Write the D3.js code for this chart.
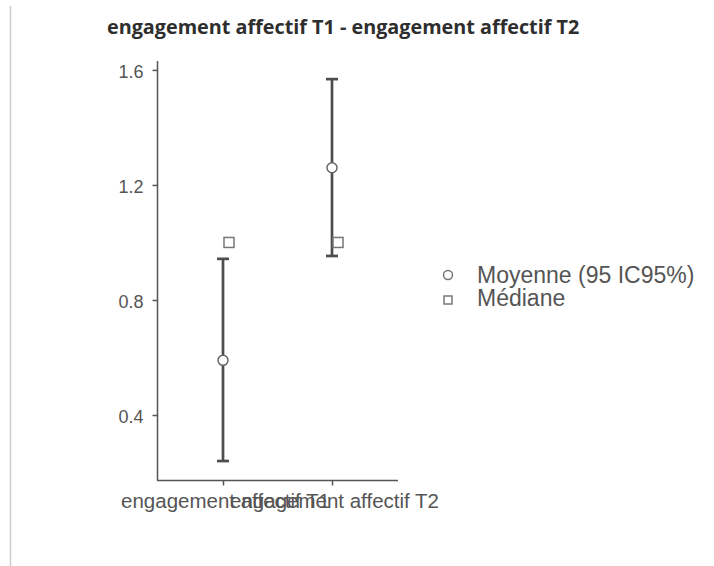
<!DOCTYPE html>
<html lang="fr">
<head>
<meta charset="utf-8">
<title>engagement affectif</title>
<script src="https://d3js.org/d3.v7.min.js"></script>
<style>
  body { margin: 0; background: #fff; }
  svg { display: block; }
  .title { font-family: "Open Sans", "Noto Sans", sans-serif; font-weight: bold; font-size: 19.8px; fill: #2e2e2e; }
  .y-axis .tick text { font-family: "Liberation Sans", Arial, sans-serif; font-size: 18px; fill: #555; }
  .x-axis .tick text { font-family: "Liberation Sans", Arial, sans-serif; font-size: 20.5px; fill: #555; }
  .legend text { font-family: "Liberation Sans", Arial, sans-serif; font-size: 23px; fill: #555; }
</style>
</head>
<body>
<svg width="714" height="566"></svg>
<script>
// data
const categories = ["engagement affectif T1", "engagement affectif T2"];
const means = [0.59, 1.26];
const ciLow = [0.24, 0.953];
const ciHigh = [0.943, 1.568];
const medians = [1.0, 1.0];
const yTicks = [0.4, 0.8, 1.2, 1.6];
const legendLabels = ["Moyenne (95 IC95%)", "Médiane"];

const svg = d3.select("svg");

// thin page border on the left
svg.append("line")
  .attr("x1", 10.5).attr("x2", 10.5).attr("y1", 6).attr("y2", 566)
  .attr("stroke", "#ccc").attr("stroke-width", 1.5);

svg.append("text").attr("class", "title")
  .attr("x", 107).attr("y", 34)
  .text("engagement affectif T1 - engagement affectif T2");

const x = d3.scalePoint().domain(categories).range([223, 332]);
const y = d3.scaleLinear().domain([0.174, 1.631]).range([480, 61]);

const axisColor = "#555";

// y axis
const yAxis = svg.append("g")
  .attr("class", "y-axis")
  .attr("transform", "translate(157.5,0)")
  .call(d3.axisLeft(y).tickValues(yTicks).tickFormat(d3.format(".1f")).tickSize(5).tickPadding(9));
yAxis.select(".domain").remove();
yAxis.selectAll(".tick line").attr("stroke", axisColor).attr("stroke-width", 1.5);
yAxis.selectAll(".tick text").attr("dy", "0.4em");
svg.append("line")
  .attr("x1", 157.5).attr("x2", 157.5).attr("y1", 61).attr("y2", 480.5)
  .attr("stroke", axisColor).attr("stroke-width", 1.5);

// x axis
const xAxis = svg.append("g")
  .attr("class", "x-axis")
  .attr("transform", "translate(0,480.5)")
  .call(d3.axisBottom(x).tickSize(5).tickPadding(8));
xAxis.select(".domain").remove();
xAxis.selectAll(".tick line").attr("stroke", axisColor).attr("stroke-width", 1.5);
xAxis.selectAll(".tick text").attr("dx", 2);
svg.append("line")
  .attr("x1", 157).attr("x2", 398).attr("y1", 480.5).attr("y2", 480.5)
  .attr("stroke", axisColor).attr("stroke-width", 1.5);

// error bars
const bars = svg.append("g");
categories.forEach(function (c, i) {
  const cx = x(c);
  bars.append("line")
    .attr("x1", cx).attr("x2", cx).attr("y1", y(ciLow[i])).attr("y2", y(ciHigh[i]))
    .attr("stroke", "#4d4d4d").attr("stroke-width", 2.7);
  [ciLow[i], ciHigh[i]].forEach(function (v) {
    bars.append("line")
      .attr("x1", cx - 6).attr("x2", cx + 6).attr("y1", y(v)).attr("y2", y(v))
      .attr("stroke", "#4d4d4d").attr("stroke-width", 2.7);
  });
});

// medians (squares, shifted right)
svg.selectAll("rect.med")
  .data(medians)
  .enter().append("rect")
  .attr("class", "med")
  .attr("x", (d, i) => x(categories[i]) + 6 - 5)
  .attr("y", d => y(d) - 5)
  .attr("width", 10).attr("height", 10)
  .attr("fill", "#fff").attr("stroke", "#777").attr("stroke-width", 1.5);

// means (circles)
svg.selectAll("circle.mean")
  .data(means)
  .enter().append("circle")
  .attr("class", "mean")
  .attr("cx", (d, i) => x(categories[i]))
  .attr("cy", d => y(d))
  .attr("r", 5)
  .attr("fill", "#fff").attr("stroke", "#666").attr("stroke-width", 1.5);

// legend
const legend = svg.append("g").attr("class", "legend");
legend.append("circle").attr("cx", 448).attr("cy", 275).attr("r", 4.5)
  .attr("fill", "#fff").attr("stroke", "#777").attr("stroke-width", 1.5);
legend.append("rect").attr("x", 444).attr("y", 296).attr("width", 8).attr("height", 8)
  .attr("fill", "#fff").attr("stroke", "#777").attr("stroke-width", 1.5);
legend.selectAll("text")
  .data(legendLabels)
  .enter().append("text")
  .attr("x", 477)
  .attr("y", (d, i) => 283 + i * 23)
  .text(d => d);
</script>
</body>
</html>
